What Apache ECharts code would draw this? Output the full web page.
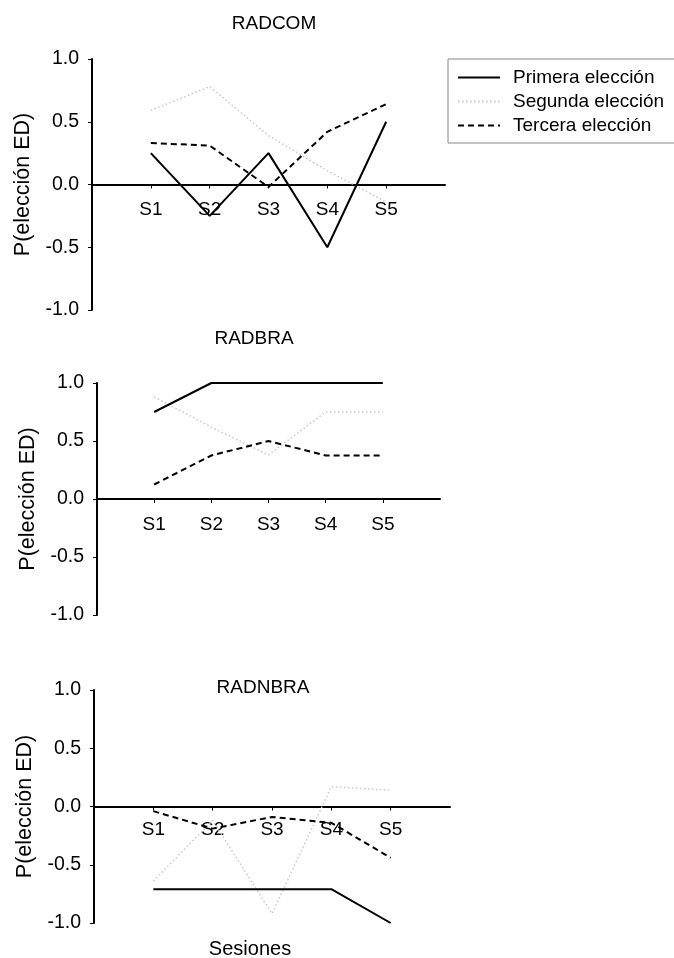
<!DOCTYPE html>
<html>
<head>
<meta charset="utf-8">
<script src="https://cdn.jsdelivr.net/npm/echarts@6/dist/echarts.min.js"></script>
<style>html,body{margin:0;padding:0;background:#fff;}#c{width:674px;height:958px;}</style>
</head>
<body>
<div id="c"></div>
<script>
const categories = ['S1', 'S2', 'S3', 'S4', 'S5'];
const seriesNames = ['Primera elección', 'Segunda elección', 'Tercera elección'];
const panelTitles = ['RADCOM', 'RADBRA', 'RADNBRA'];
const xAxisTitle = 'Sesiones';
const yAxisTitle = 'P(elección ED)';

const radcomPrimera = [0.25, -0.25, 0.25, -0.5, 0.5];
const radcomSegunda = [0.59, 0.78, 0.39, 0.11, -0.14];
const radcomTercera = [0.33, 0.31, -0.02, 0.42, 0.64];

const radbraPrimera = [0.75, 1.0, 1.0, 1.0, 1.0];
const radbraSegunda = [0.88, 0.62, 0.38, 0.75, 0.75];
const radbraTercera = [0.125, 0.375, 0.5, 0.375, 0.375];

const radnbraPrimera = [-0.71, -0.71, -0.71, -0.71, -1.0];
const radnbraSegunda = [-0.64, -0.12, -0.92, 0.17, 0.14];
const radnbraTercera = [-0.04, -0.19, -0.09, -0.14, -0.44];

const panels = [
  [radcomPrimera, radcomSegunda, radcomTercera],
  [radbraPrimera, radbraSegunda, radbraTercera],
  [radnbraPrimera, radnbraSegunda, radnbraTercera]
];

const FONT = 'Liberation Sans, Arial, sans-serif';
const grids = [
  { left: 92, top: 59, width: 353, height: 251 },
  { left: 97, top: 383, width: 343, height: 232 },
  { left: 94, top: 690, width: 356, height: 233 }
];
const titlePos = [
  { x: 274, y: 14 },
  { x: 254, y: 329 },
  { x: 263, y: 678 }
];
const xLabelMargin = [16, 16, 14];
const lineStyles = [
  { color: '#000', width: 2, type: 'solid' },
  { color: '#c8c8c8', width: 1.5, type: [1.5, 2.5] },
  { color: '#000', width: 2, type: [6, 4] }
];

const xAxes = [], yAxes = [], series = [], titles = [];
panels.forEach((panel, p) => {
  titles.push({
    text: panelTitles[p], left: titlePos[p].x, top: titlePos[p].y, textAlign: 'center', padding: 0,
    textStyle: { fontFamily: FONT, fontSize: 19, fontWeight: 'normal', color: '#000' }
  });
  xAxes.push({
    type: 'value', gridIndex: p, min: 0, max: 6, interval: 1,
    position: 'bottom', offset: -grids[p].height / 2,
    axisLine: { show: true, onZero: false, lineStyle: { color: '#000', width: 2 } },
    axisTick: { show: true, length: 4, lineStyle: { color: '#000', width: 1 }, customValues: [1, 2, 3, 4, 5] },
    axisLabel: {
      show: true, margin: xLabelMargin[p], fontFamily: FONT, fontSize: 19, color: '#000',
      customValues: [1, 2, 3, 4, 5],
      formatter: v => categories[v - 1] || ''
    },
    splitLine: { show: false }
  });
  yAxes.push({
    type: 'value', gridIndex: p, min: -1, max: 1, interval: 0.5,
    axisLine: { show: true, onZero: false, lineStyle: { color: '#000', width: 2 } },
    axisTick: { show: true, length: 4, lineStyle: { color: '#000', width: 1 } },
    axisLabel: { margin: 13, fontFamily: FONT, fontSize: 19.5, color: '#000', formatter: v => v.toFixed(1) },
    splitLine: { show: false },
    name: yAxisTitle, nameLocation: 'middle', nameGap: 58, nameRotate: 90,
    nameTextStyle: { fontFamily: FONT, fontSize: 21.5, color: '#000' }
  });
  panel.forEach((vals, s) => {
    series.push({
      name: seriesNames[s], type: 'line', xAxisIndex: p, yAxisIndex: p,
      data: vals.map((v, i) => [i + 1, v]),
      symbol: 'none', showSymbol: false,
      lineStyle: lineStyles[s], itemStyle: { color: lineStyles[s].color },
      animation: false, silent: true, z: s === 1 ? 1 : 3
    });
  });
});
titles.push({
  text: xAxisTitle, left: 250, top: 939, textAlign: 'center', padding: 0,
  textStyle: { fontFamily: FONT, fontSize: 20, fontWeight: 'normal', color: '#000' }
});

const chart = echarts.init(document.getElementById('c'), null, { renderer: 'canvas' });
chart.setOption({
  animation: false,
  backgroundColor: '#fff',
  title: titles,
  grid: grids,
  xAxis: xAxes,
  yAxis: yAxes,
  legend: {
    data: seriesNames, orient: 'vertical', left: 448, top: 59,
    padding: [9, 24, 8, 9], itemGap: 5, itemWidth: 42, itemHeight: 14,
    borderColor: '#888', borderWidth: 1, borderRadius: 0,
    selectedMode: false,
    itemStyle: { opacity: 0 },
    lineStyle: { width: 2 },
    textStyle: { fontFamily: FONT, fontSize: 19, color: '#000', padding: [0, 0, 0, 8] }
  },
  series: series
});
</script>
</body>
</html>
